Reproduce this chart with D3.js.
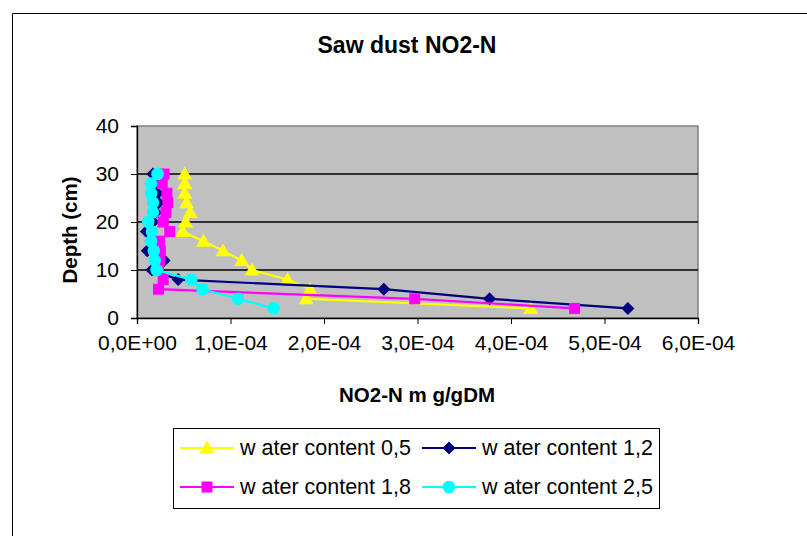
<!DOCTYPE html>
<html>
<head>
<meta charset="utf-8">
<script src="https://cdn.jsdelivr.net/npm/d3@7"></script>
<style>
    body { margin: 0; background: #fff; }
    text { font-family: "Liberation Sans", Arial, sans-serif; fill: #000; }
</style>
</head>
<body>
<div class="container-chart"></div>
<script>
/* --------------------------------------------------------- */
/* DATA                                                      */
/* --------------------------------------------------------- */
const depths = [2, 4, 6, 8, 10, 12, 14, 16, 18, 20, 22, 24, 26, 28, 30];

const wc05 = [4.21e-4, 1.81e-4, 1.85e-4, 1.61e-4, 1.23e-4, 1.12e-4, 0.92e-4, 0.71e-4, 0.49e-4, 0.52e-4, 0.57e-4, 0.53e-4, 0.51e-4, 0.51e-4, 0.51e-4];
const wc12 = [5.25e-4, 3.77e-4, 2.64e-4, 0.44e-4, 0.16e-4, 0.29e-4, 0.11e-4, 0.15e-4, 0.10e-4, 0.17e-4, 0.20e-4, 0.23e-4, 0.22e-4, 0.19e-4, 0.17e-4];
const wc18 = [4.68e-4, 2.97e-4, 0.23e-4, 0.28e-4, 0.23e-4, 0.24e-4, 0.25e-4, 0.24e-4, 0.35e-4, 0.28e-4, 0.31e-4, 0.33e-4, 0.32e-4, 0.27e-4, 0.29e-4];
const wc25 = [1.46e-4, 1.08e-4, 0.70e-4, 0.58e-4, 0.21e-4, 0.19e-4, 0.18e-4, 0.15e-4, 0.16e-4, 0.12e-4, 0.17e-4, 0.17e-4, 0.15e-4, 0.15e-4, 0.22e-4];

const seriesNames = ["w ater content 0,5", "w ater content 1,2", "w ater content 1,8", "w ater content 2,5"];
const xTicks = [0, 1e-4, 2e-4, 3e-4, 4e-4, 5e-4, 6e-4];
const yTicks = [0, 10, 20, 30, 40];

/* --------------------------------------------------------- */
/* DRAW CHART                                                */
/* --------------------------------------------------------- */
const width = 807, height = 536;
const plot = { left: 137, right: 698, top: 126, bottom: 318 };

const series = [
    { name: seriesNames[0], values: wc05, color: "#ffff00", marker: "triangle" },
    { name: seriesNames[1], values: wc12, color: "#000080", marker: "diamond" },
    { name: seriesNames[2], values: wc18, color: "#ff00ff", marker: "square" },
    { name: seriesNames[3], values: wc25, color: "#00ffff", marker: "circle" }
];

const svg = d3.select(".container-chart")
    .append("svg")
    .attr("width", width)
    .attr("height", height);

// outer chart frame (only left + top visible)
svg.append("path")
    .attr("d", `M12.5,${height} V13.5 H${width}`)
    .attr("fill", "none")
    .attr("stroke", "#000")
    .attr("stroke-width", 1);

const x = d3.scaleLinear().domain([0, 6e-4]).range([plot.left, plot.right]);
const y = d3.scaleLinear().domain([0, 40]).range([plot.bottom, plot.top]);

// plot area
svg.append("rect")
    .attr("x", plot.left)
    .attr("y", plot.top)
    .attr("width", plot.right - plot.left)
    .attr("height", plot.bottom - plot.top)
    .attr("fill", "#c0c0c0")
    .attr("stroke", "#808080")
    .attr("stroke-width", 1.5);

// gridlines
svg.append("g")
    .selectAll("line")
    .data(yTicks.filter(d => d > 0 && d < 40))
    .enter().append("line")
    .attr("x1", plot.left).attr("x2", plot.right)
    .attr("y1", d => y(d)).attr("y2", d => y(d))
    .attr("stroke", "#000")
    .attr("stroke-width", 1.3);

function sciFormat(d) {
    const parts = Math.abs(d) < 1e-12 ? ["0.0", "+0"] : d.toExponential(1).split("e");
    const sign = parts[1][0] === "-" ? "-" : "+";
    const exp = String(Math.abs(+parts[1])).padStart(2, "0");
    return parts[0].replace(".", ",") + "E" + sign + exp;
}

const xAxis = svg.append("g")
    .attr("transform", `translate(0,${plot.bottom})`)
    .call(d3.axisBottom(x).tickValues(xTicks).tickSize(6).tickPadding(11).tickFormat(sciFormat));

const yAxis = svg.append("g")
    .attr("transform", `translate(${plot.left},0)`)
    .call(d3.axisLeft(y).tickValues(yTicks).tickSize(6).tickPadding(12).tickFormat(d3.format("d")));

[xAxis, yAxis].forEach(function (ax) {
    ax.select(".domain").attr("stroke", "#000").attr("stroke-width", 1.3);
    ax.selectAll(".tick line").attr("stroke", "#000");
    ax.selectAll(".tick text")
        .style("font-family", "'Liberation Sans', Arial, sans-serif")
        .style("font-size", "21px")
        .attr("fill", "#000");
});
xAxis.selectAll(".tick text").attr("dy", "0.72em");

// titles
svg.append("text")
    .attr("x", 407).attr("y", 45)
    .attr("text-anchor", "middle")
    .attr("dominant-baseline", "central")
    .style("font-size", "23px").style("font-weight", "bold")
    .text("Saw dust NO2-N");

svg.append("text")
    .attr("x", 417).attr("y", 394)
    .attr("text-anchor", "middle")
    .attr("dominant-baseline", "central")
    .style("font-size", "20.5px").style("font-weight", "bold")
    .text("NO2-N m g/gDM");

svg.append("text")
    .attr("transform", "translate(69,230) rotate(-90)")
    .attr("text-anchor", "middle")
    .attr("dominant-baseline", "central")
    .style("font-size", "20.5px").style("font-weight", "bold")
    .text("Depth (cm)");

/* --------------------------------------------------------- */
/* MARKERS                                                   */
/* --------------------------------------------------------- */
function markerPath(type) {
    if (type === "triangle") return "M0,-7.5 L7.5,5.5 L-7.5,5.5 Z";
    if (type === "diamond") return "M0,-6.5 L6.5,0 L0,6.5 L-6.5,0 Z";
    if (type === "square") return "M-5.5,-5.5 H5.5 V5.5 H-5.5 Z";
    return d3.symbol().type(d3.symbolCircle).size(Math.PI * 6.3 * 6.3)();
}

const line = d3.line()
    .x(d => x(d.v))
    .y(d => y(d.depth));

series.forEach(function (s) {
    const pts = depths.map((dp, i) => ({ depth: dp, v: s.values[i] }));
    const g = svg.append("g").attr("class", "series");
    g.append("path")
        .datum(pts)
        .attr("d", line)
        .attr("fill", "none")
        .attr("stroke", s.color)
        .attr("stroke-width", 2.2);
    g.selectAll(".pt")
        .data(pts)
        .enter().append("path")
        .attr("class", "pt")
        .attr("transform", d => `translate(${x(d.v)},${y(d.depth)})`)
        .attr("d", markerPath(s.marker))
        .attr("fill", s.color);
});

/* --------------------------------------------------------- */
/* LEGEND                                                    */
/* --------------------------------------------------------- */
const legend = svg.append("g");
legend.append("rect")
    .attr("x", 173.5).attr("y", 428.5)
    .attr("width", 486).attr("height", 80)
    .attr("fill", "#fff")
    .attr("stroke", "#000");

const legCols = [180, 422];
const legRows = [448, 487];

series.forEach(function (s, i) {
    const lx = legCols[i % 2], ly = legRows[Math.floor(i / 2)];
    const item = legend.append("g").attr("transform", `translate(${lx},${ly})`);
    item.append("line")
        .attr("x1", 0).attr("x2", 54)
        .attr("stroke", s.color).attr("stroke-width", 2);
    item.append("path")
        .attr("transform", "translate(27,0)")
        .attr("d", markerPath(s.marker))
        .attr("fill", s.color);
    item.append("text")
        .attr("x", 60)
        .attr("dominant-baseline", "central")
        .style("font-size", "21.5px")
        .text(s.name);
});
</script>
</body>
</html>
